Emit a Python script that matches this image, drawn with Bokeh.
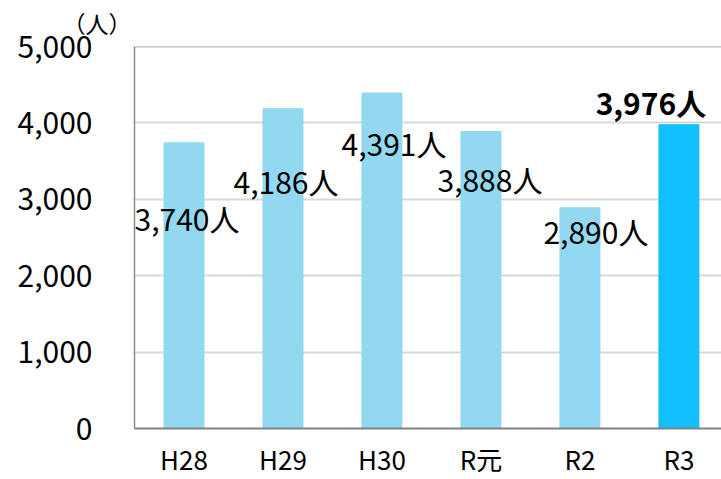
from bokeh.plotting import figure
from bokeh.models import ColumnDataSource, Range1d, FixedTicker, NumeralTickFormatter, Span, LabelSet
from bokeh.embed import file_html
from bokeh.resources import INLINE
from bokeh.core.properties import value

# Visitors per fiscal year
years = ["H28", "H29", "H30", "R元", "R2", "R3"]
people = [3740, 4186, 4391, 3888, 2890, 3976]
y_ticks = [0, 1000, 2000, 3000, 4000, 5000]
unit_label = "（人）"

# Styling per bar: latest year highlighted
bar_colors = ["#92D8F0", "#92D8F0", "#92D8F0", "#92D8F0", "#92D8F0", "#12BFFF"]
label_weights = ["normal", "normal", "normal", "normal", "normal", "bold"]
# Pixel offsets of each value label from the top centre of its bar (down is negative)
label_dx = [3, 3, 12, 9, 16, -28]
label_dy = [-75, -72, -50, -48, -23, 23]

FONT = "Noto Sans CJK JP"

idx = list(range(len(years)))
src = ColumnDataSource(dict(
    x=idx,
    v=people,
    color=bar_colors,
    txt=[f"{v:,}人" for v in people],
    weight=label_weights,
    dx=label_dx,
    dy=label_dy,
))

p = figure(
    width=721, height=479,
    x_range=Range1d(-0.5, 5.43), y_range=Range1d(0, 5000),
    output_backend="svg", toolbar_location=None,
    min_border_left=134, min_border_top=46, min_border_bottom=51, min_border_right=0,
    title=unit_label,
)
p.outline_line_color = None
p.background_fill_color = "white"
p.border_fill_color = "white"

# Unit caption above the y axis
p.title.align = "left"
p.title.vertical_align = "top"
p.title.offset = -72
p.title.standoff = 9
p.title.text_font = FONT
p.title.text_font_size = "23px"
p.title.text_font_style = "normal"
p.title.text_color = "black"

p.vbar(x="x", top="v", width=0.404, color="color", source=src)

p.add_layout(LabelSet(x="x", y="v", text="txt", x_offset="dx", y_offset="dy",
                      text_align="center", text_baseline="middle",
                      text_font=value(FONT), text_font_size=value("30px"),
                      text_color="black", text_font_style="weight", source=src))

# Grid
p.xgrid.visible = False
p.ygrid.ticker = FixedTicker(ticks=y_ticks)
p.ygrid.grid_line_color = "#D9D9D9"
p.ygrid.grid_line_width = 2

# Top border of the plot area
p.add_layout(Span(location=5000, dimension="width", line_color="#8C8C8C", line_width=1.5))

# Y axis
ya = p.yaxis[0]
ya.ticker = FixedTicker(ticks=y_ticks)
ya.formatter = NumeralTickFormatter(format="0,0")
ya.major_tick_line_color = None
ya.minor_tick_line_color = None
ya.major_tick_out = 0
ya.major_label_standoff = 42
ya.axis_line_color = "#8C8C8C"
ya.axis_line_width = 1.5
ya.major_label_text_font = FONT
ya.major_label_text_font_size = "30px"
ya.major_label_text_color = "black"

# X axis
xa = p.xaxis[0]
xa.ticker = FixedTicker(ticks=idx)
xa.major_label_overrides = {i: y for i, y in zip(idx, years)}
xa.major_tick_line_color = None
xa.minor_tick_line_color = None
xa.major_tick_out = 0
xa.major_label_standoff = 11
xa.axis_line_color = "#808080"
xa.axis_line_width = 2
xa.major_label_text_font = FONT
xa.major_label_text_font_size = "26px"
xa.major_label_text_color = "black"

open("out.html", "w").write(file_html(p, INLINE))
